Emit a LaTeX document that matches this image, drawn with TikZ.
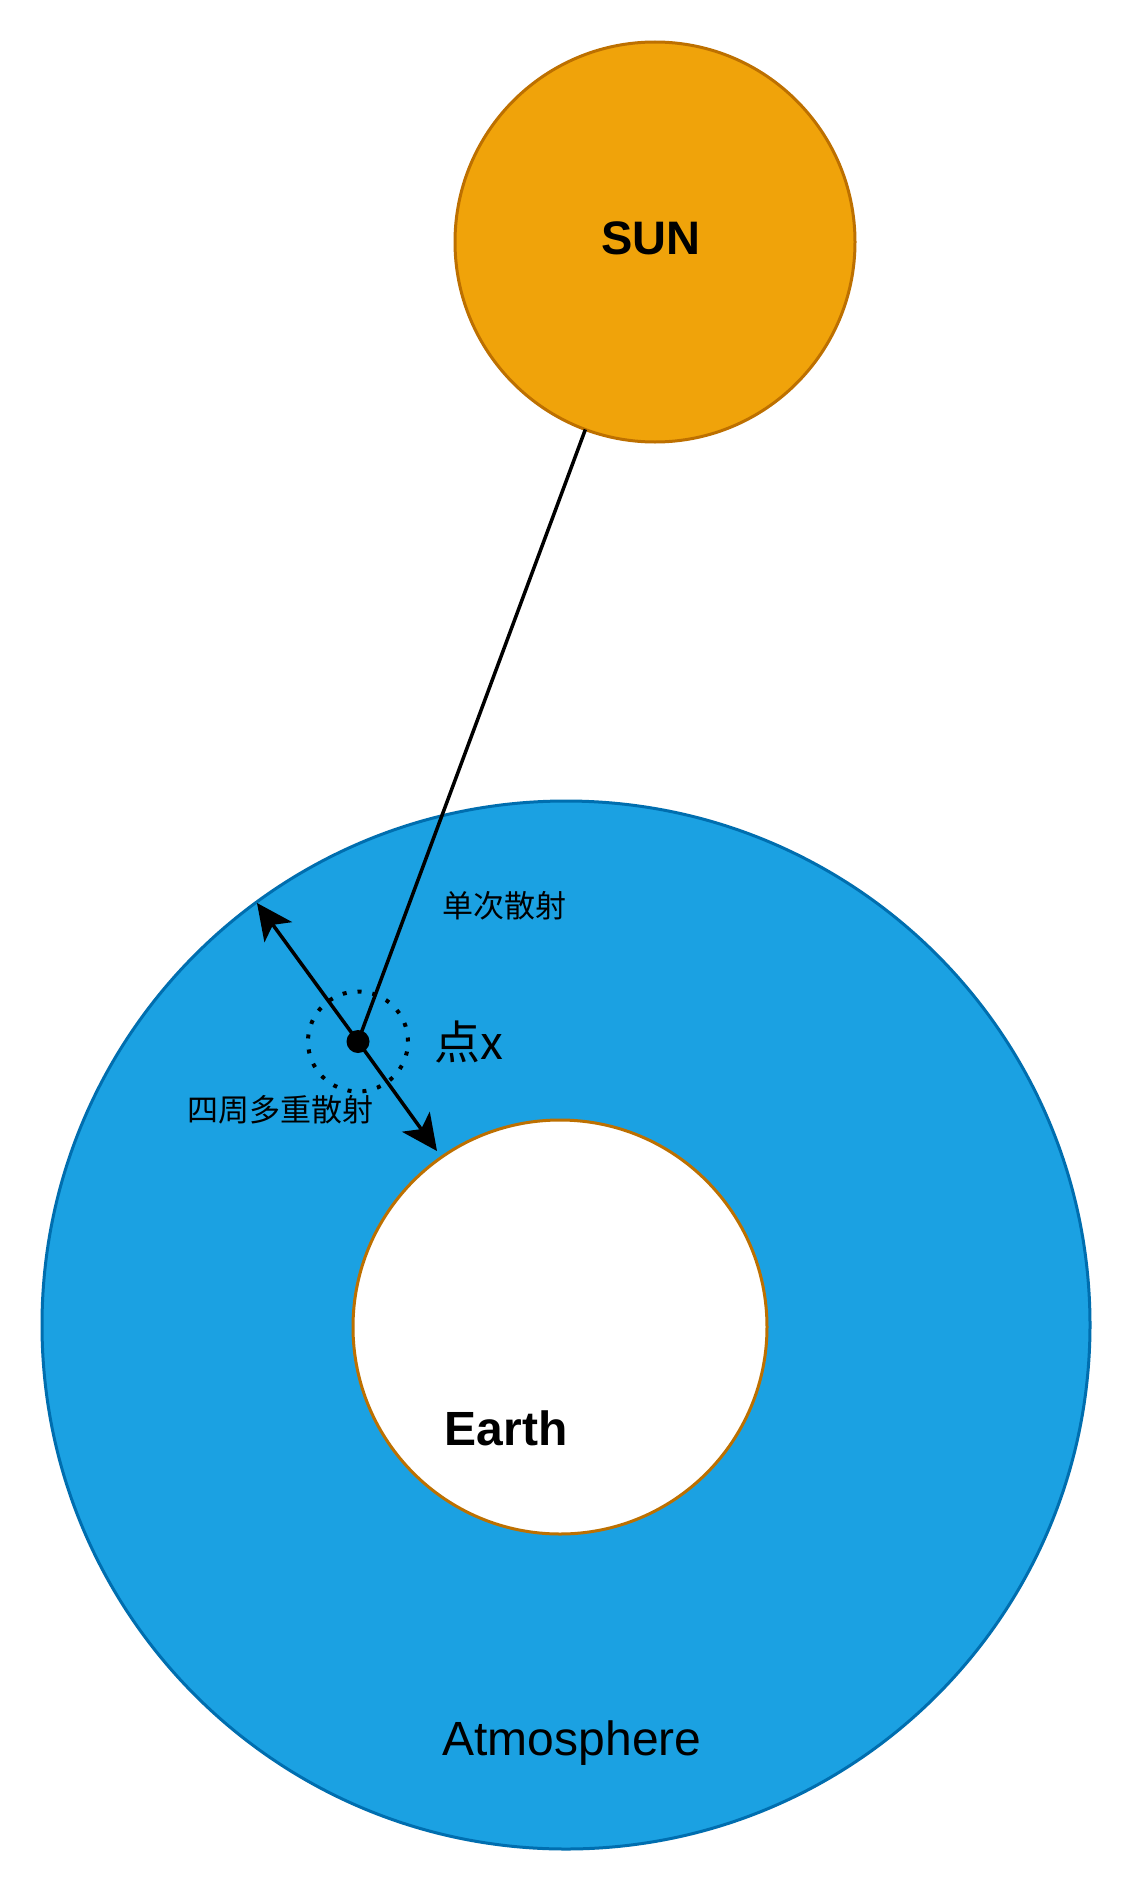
\documentclass[tikz,border=0pt]{standalone}
\usepackage{fontspec}
\setmainfont{Liberation Sans}
\newfontfamily\cjk{Noto Sans CJK SC}
\usetikzlibrary{arrows.meta}
\definecolor{sunfill}{HTML}{F0A30A}
\definecolor{sunline}{HTML}{BD7000}
\definecolor{atmfill}{HTML}{1BA1E2}
\definecolor{atmline}{HTML}{006EAF}
\tikzset{
  body/.style={circle, inner sep=0pt, outer sep=0pt, line width=3pt},
  ray/.style={line width=3.5pt, black},
  arr/.style={ray, -{Stealth[length=36pt, width=34pt, inset=9pt]}},
  ring/.style={line width=4pt, dash pattern=on 4pt off 11pt},
  pt/.style={circle, fill=black, inner sep=0pt, minimum size=23pt},
  cjklabel/.style={font=\cjk\fontsize{31}{36}\selectfont, inner sep=0pt},
}
\begin{document}
\begin{tikzpicture}[x=1pt, y=-1pt]
\useasboundingbox[fill=white] (0,0) rectangle (1132,1892);
% bodies
\node[body, draw=atmline, fill=atmfill, minimum size=1048pt] (atm) at (566,1325) {};
\node[body, draw=sunline, fill=white, minimum size=414pt] (earth) at (560,1327) {};
\node[body, draw=sunline, fill=sunfill, minimum size=400pt] (sun) at (655,242) {};
% point x
\node[pt] (x) at (358,1041.5) {};
\coordinate (t1) at (257,903);
\coordinate (t2) at (437,1151);
\draw[ray] (x.center) -- (sun);
\draw[arr] (x.center) -- (t1);
\draw[arr] (x.center) -- (t2);
\draw[ring] (x.center) circle[radius=50pt];
% labels
\node[font=\bfseries\fontsize{47}{52}\selectfont, inner sep=0pt] (sunlab) at (651,238.5) {SUN};
\node[font=\bfseries\fontsize{48}{54}\selectfont, inner sep=0pt, anchor=base] (earthlab) at (506,1445) {Earth};
\node[font=\fontsize{48}{54}\selectfont, inner sep=0pt, anchor=base] (atmlab) at (572,1755) {Atmosphere};
\node[cjklabel] (single) at (504,906) {单次散射};
\node[cjklabel] (multi) at (280,1110) {四周多重散射};
\node[font=\cjk\fontsize{46}{52}\selectfont, inner sep=0pt] (xlab) at (469,1041.5) {点x};
\end{tikzpicture}
\end{document}
